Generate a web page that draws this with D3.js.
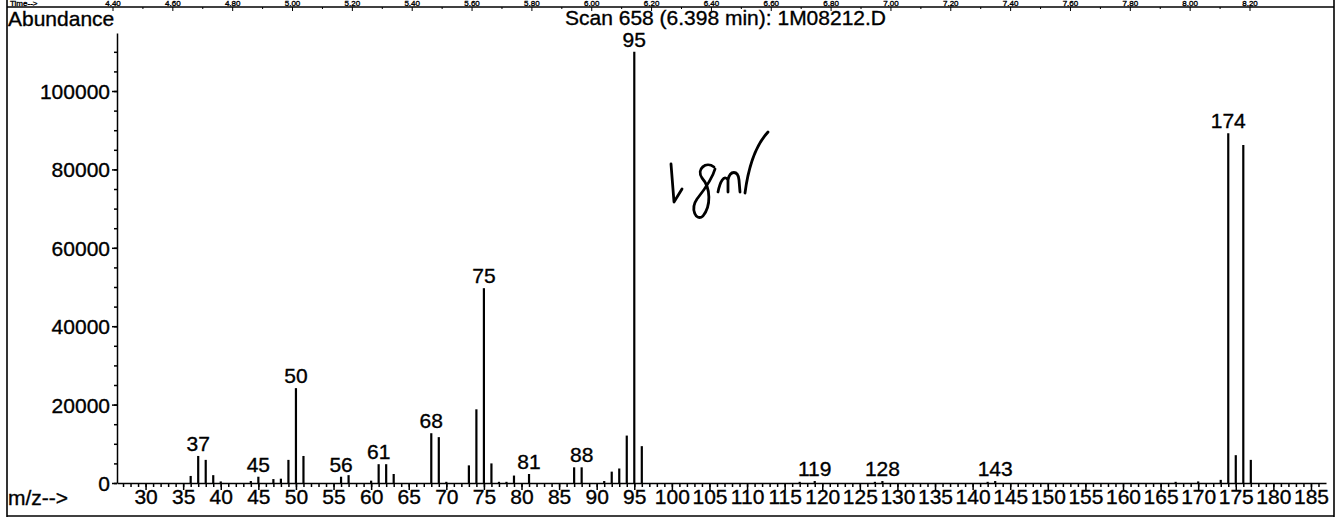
<!DOCTYPE html>
<html>
<head>
<meta charset="utf-8">
<script src="https://cdn.jsdelivr.net/npm/d3@7"></script>
<style>
  html, body { margin: 0; padding: 0; background: #fff; }
  svg { display: block; }
  text { font-family: "Liberation Sans", Arial, Helvetica, sans-serif; fill: #000; stroke: #000; stroke-width: 0.35px; }
</style>
</head>
<body>
<svg id="chart" width="1337" height="518"></svg>
<script>
// Mass spectrum, scan 658 (6.398 min) of 1M08212.D
const mz = [36, 37, 38, 39, 40, 44, 45, 47, 48, 49, 50, 51, 56, 57, 60, 61, 62, 63,
            68, 69, 70, 73, 74, 75, 76, 77, 78, 79, 81, 87, 88, 91, 92, 93, 94, 95, 96,
            117, 119, 127, 128, 142, 143, 167, 170, 173, 174, 175, 176, 177];
const abundance = [1800, 6900, 5900, 2000, 400, 500, 1600, 1000, 1100, 5900, 24200, 6900, 1600, 2000, 600, 4800, 4800, 2300,
                   12700, 11700, 300, 4500, 18800, 49700, 5000, 300, 300, 1900, 2300, 4000, 4000, 500, 2900, 3700, 12100, 110000, 9400,
                   300, 500, 300, 500, 300, 500, 300, 400, 800, 89200, 7100, 86200, 5900];
const labelledPeaks = [37, 45, 50, 56, 61, 68, 75, 81, 88, 95, 119, 128, 143, 174];

const yTickValues = [0, 20000, 40000, 60000, 80000, 100000];
const xTickValues = d3.range(30, 186, 5);
const timeLabels = ["4.40", "4.60", "4.80", "5.00", "5.20", "5.40", "5.60", "5.80", "6.00", "6.20",
                    "6.40", "6.60", "6.80", "7.00", "7.20", "7.40", "7.60", "7.80", "8.00", "8.20"];

const peaks = mz.map((m, i) => ({ mz: m, value: abundance[i] }));

const svg = d3.select("#chart");
const FONT = 21;

const x = d3.scaleLinear().domain([26.2, 187]).range([117, 1326]);
const y = d3.scaleLinear().domain([0, 114800]).range([483, 33]);

// page frame and the chromatogram time strip along the top edge
const frame = svg.append("g").attr("stroke", "#000").attr("stroke-width", 1.6);
frame.append("line").attr("x1", 7).attr("x2", 7).attr("y1", 0).attr("y2", 517);
frame.append("line").attr("x1", 1334).attr("x2", 1334).attr("y1", 0).attr("y2", 517);
frame.append("line").attr("x1", 7).attr("x2", 1334).attr("y1", 7).attr("y2", 7);
frame.append("line").attr("x1", 7).attr("x2", 1334).attr("y1", 516).attr("y2", 516);

const tStrip = d3.scaleLinear().domain([0, timeLabels.length - 1]).range([113, 1250]);
const strip = svg.append("g").style("stroke-width", "0.2px");
strip.selectAll("text").data(timeLabels).join("text")
  .attr("x", (d, i) => tStrip(i)).attr("y", 6)
  .attr("text-anchor", "middle").attr("font-size", 8).text(d => d);
strip.append("text").attr("x", 10).attr("y", 6).attr("font-size", 8).text("Time-->");
svg.append("g").attr("stroke", "#000").attr("stroke-width", 1)
  .selectAll("line").data(d3.range(timeLabels.length * 2 - 1)).join("line")
  .attr("x1", d => tStrip(d / 2)).attr("x2", d => tStrip(d / 2))
  .attr("y1", 7).attr("y2", d => d % 2 ? 9 : 11);

// headings
svg.append("text").attr("x", 8).attr("y", 26).attr("font-size", FONT).text("Abundance");
svg.append("text").attr("x", 565).attr("y", 25).attr("font-size", FONT)
  .text("Scan 658 (6.398 min): 1M08212.D");
svg.append("text").attr("x", 8).attr("y", 505).attr("font-size", FONT).text("m/z-->");

// y axis
const yMinor = svg.append("g").attr("transform", "translate(117,0)")
  .call(d3.axisLeft(y).tickValues(d3.range(0, 114800, 5000)).tickSize(3).tickFormat(""));
yMinor.select(".domain").remove();
const yAxis = svg.append("g").attr("transform", "translate(117,0)")
  .call(d3.axisLeft(y).tickValues(yTickValues).tickSize(5).tickSizeOuter(0).tickFormat(d3.format("d")));
yAxis.selectAll("text").attr("font-size", FONT).attr("font-family", "Liberation Sans, Arial, sans-serif")
  .attr("x", -7).attr("dy", "0.36em");

// x axis
const xMinor = svg.append("g").attr("transform", "translate(0,483)")
  .call(d3.axisBottom(x).tickValues(d3.range(27, 187, 1)).tickSize(4).tickFormat(""));
xMinor.select(".domain").remove();
const xAxis = svg.append("g").attr("transform", "translate(0,483)")
  .call(d3.axisBottom(x).tickValues(xTickValues).tickSize(7).tickSizeOuter(0).tickFormat(d3.format("d")));
xAxis.selectAll("text").attr("font-size", FONT).attr("font-family", "Liberation Sans, Arial, sans-serif")
  .attr("y", 6).attr("dy", "0.71em");
svg.selectAll(".tick line, .domain").attr("stroke", "#000").attr("stroke-width", 1.5);

// spectrum sticks
svg.append("g").attr("stroke", "#000").attr("stroke-width", 2.2)
  .selectAll("line").data(peaks).join("line")
  .attr("x1", d => x(d.mz)).attr("x2", d => x(d.mz))
  .attr("y1", y(0)).attr("y2", d => y(d.value));

// m/z labels over the main ions
svg.append("g").selectAll("text")
  .data(peaks.filter(p => labelledPeaks.includes(p.mz))).join("text")
  .attr("x", d => x(d.mz)).attr("y", d => y(d.value) - 5)
  .attr("text-anchor", "middle").attr("font-size", FONT).text(d => d.mz);

// handwritten note on the printout
svg.append("g").attr("transform", "translate(640,120)")
  .attr("fill", "none").attr("stroke", "#000").attr("stroke-width", 2.8)
  .attr("stroke-linecap", "round").attr("stroke-linejoin", "round")
  .selectAll("path").data([
    "M31,44 C32,57 33,70 34,82 L42,69",
    "M74,47 C66,41 56,49 62,58 C71,68 71,86 63,96 C56,102 50,89 57,79 C64,70 72,60 75,49",
    "M78,72 C80,62 84,54 88,60 L88,72 M88,60 C90,50 98,50 99,60 L100,72",
    "M105,73 C108,50 115,26 128,12"
  ]).join("path").attr("d", d => d);
</script>
</body>
</html>
